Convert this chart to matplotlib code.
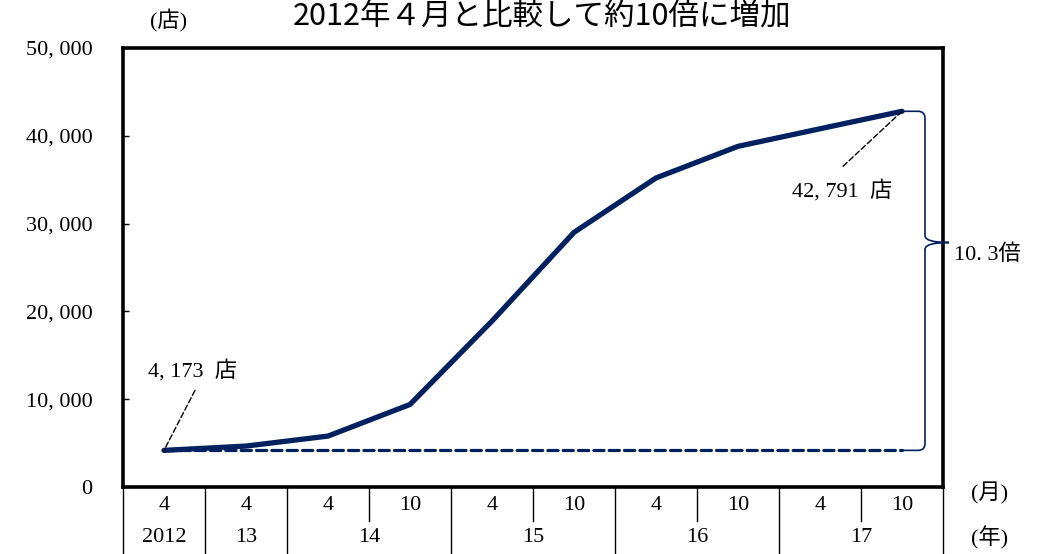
import matplotlib
matplotlib.use("Agg")
import matplotlib.pyplot as plt
from matplotlib.path import Path
from matplotlib.patches import PathPatch
import matplotlib.transforms as mtransforms

plt.rcParams['font.family'] = ['Liberation Serif', 'Noto Sans CJK JP']

# ---- data ----
months = ['4', '4', '4', '10', '4', '10', '4', '10', '4', '10']
years = ['2012', '13', '14', '15', '16', '17']
year_spans = [(0, 0), (1, 1), (2, 3), (4, 5), (6, 7), (8, 9)]
stores = [4173, 4660, 5800, 9400, 18900, 29000, 35200, 38800, 40800, 42791]
y_ticks = [0, 10000, 20000, 30000, 40000, 50000]
title = '2012年４月と比較して約10倍に増加'
ratio_label = '10. 3倍'


def fmt(v):
    return f'{v:,}'.replace(',', ', ')


NAVY = '#002060'
FS = 16
W, H = 1051, 554
fig = plt.figure(figsize=(W / 100, H / 100), dpi=100)
ax = fig.add_axes([123 / W, (H - 487) / H, (943 - 123) / W, (487 - 48) / H])

n = len(stores)
xs = list(range(n))
first, last = stores[0], stores[-1]

# baseline (dashed) and main line
ax.plot([xs[0], xs[-1]], [first, first], color=NAVY, lw=2.3,
        linestyle=(0, (3.2, 1.6)), dash_capstyle='round', zorder=2)
ax.plot(xs, stores, color=NAVY, lw=3.8, solid_joinstyle='round',
        solid_capstyle='round', zorder=3)

ax.set_xlim(-0.5, n - 0.5)
ax.set_ylim(y_ticks[0], y_ticks[-1])
ax.set_yticks(y_ticks)
ax.set_yticklabels([fmt(v) for v in y_ticks], fontsize=FS)
ax.tick_params(axis='y', direction='in', length=4, width=1, pad=22)
ax.tick_params(axis='x', bottom=False, labelbottom=False)
for s in ax.spines.values():
    s.set_linewidth(2.6)
    s.set_color('black')

# ---- brace from first to last value ----
px_x = 1 / 82.0        # category units per pixel
px_y = 10000 / 88.0    # value units per pixel
bx = xs[-1] + 23 * px_x
tipx = xs[-1] + 47 * px_x
tipy = first + 0.613 * (last - first)
cx, cy = 7 * px_x, 7 * px_y
verts = [
    (xs[-1], last), (bx - cx, last), (bx, last), (bx, last - cy),
    (bx, tipy + cy), (bx, tipy), (tipx, tipy),
    (bx, tipy), (bx, tipy - cy),
    (bx, first + cy), (bx, first), (bx - cx, first), (xs[-1], first),
]
codes = [Path.MOVETO, Path.LINETO, Path.CURVE3, Path.CURVE3,
         Path.LINETO, Path.CURVE3, Path.CURVE3,
         Path.CURVE3, Path.CURVE3,
         Path.LINETO, Path.CURVE3, Path.CURVE3, Path.LINETO]
ax.add_patch(PathPatch(Path(verts, codes), fill=False, edgecolor=NAVY,
                       lw=1.2, clip_on=False, zorder=4))
ax.annotate(ratio_label, xy=(tipx, tipy), xytext=(5, -12),
            textcoords='offset pixels', ha='left', va='center',
            fontsize=FS, annotation_clip=False)

# ---- value callouts ----
lead = dict(arrowstyle='-', linestyle=(0, (4, 2)), lw=1.0, color='black',
            shrinkA=0, shrinkB=0)
ax.annotate('', xy=(xs[0], first), xytext=(31, 60),
            textcoords='offset pixels', arrowprops=lead)
ax.annotate(f'{fmt(first)}  店', xy=(xs[0], first), xytext=(29, 80),
            textcoords='offset pixels', ha='center', va='center', fontsize=FS)
ax.annotate('', xy=(xs[-1], last), xytext=(-59, -55),
            textcoords='offset pixels', arrowprops=lead)
ax.annotate(f'{fmt(last)}  店', xy=(xs[-1], last), xytext=(-60, -79),
            textcoords='offset pixels', ha='center', va='center', fontsize=FS)

# ---- category axis below ----
trans = mtransforms.blended_transform_factory(ax.transData, ax.transAxes)
ah = (487 - 48)
y_top = -1 / ah
y_mid = -(521 - 487) / ah
y_bot = -(554 - 487) / ah
full_bounds = [-0.5] + [b + 0.5 for a, b in year_spans]
half_bounds = [a + 0.5 for a, b in year_spans if b > a]
for b in full_bounds:
    ax.plot([b, b], [y_top, y_bot], color='black', lw=1.0, transform=trans,
            clip_on=False)
for b in half_bounds:
    ax.plot([b, b], [y_top, y_mid], color='black', lw=1.0, transform=trans,
            clip_on=False)
for i, m in enumerate(months):
    ax.text(i, -(505 - 487) / ah, m, transform=trans, ha='center',
            va='center', fontsize=FS)
for (a, b), yl in zip(year_spans, years):
    ax.text((a + b) / 2, -(538 - 487) / ah, yl, transform=trans,
            ha='center', va='center', fontsize=FS)

fig.text(990 / W, 1 - 493 / H, '(月)', ha='center', va='center', fontsize=FS)
fig.text(990 / W, 1 - 538 / H, '(年)', ha='center', va='center', fontsize=FS)
fig.text(169 / W, 1 - 20 / H, '(店)', ha='center', va='center', fontsize=FS)
fig.text(542 / W, 1 - 16 / H, title, ha='center', va='center', fontsize=22,
         family=['Noto Sans CJK JP', 'DejaVu Sans'])

fig.savefig('out.png', dpi=100)
